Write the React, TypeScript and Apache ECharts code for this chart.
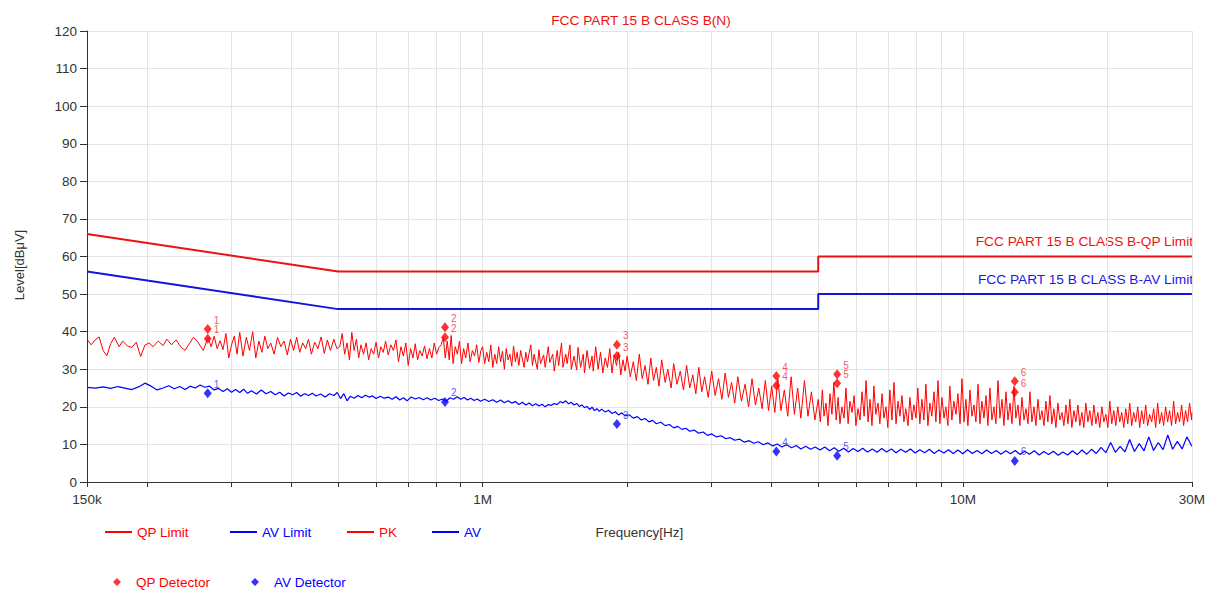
import React, { useEffect, useRef } from "react";
import * as echarts from "echarts";

const FONT = '"Liberation Sans", Arial, Helvetica, sans-serif';
const RED = "#ff0000";
const BLUE = "#0000ff";
const LIMIT_RED = "#ee1111";
const LIMIT_BLUE = "#1414e0";

// x axis (MHz, log)
const X_MIN = 0.15;
const X_MAX = 30;
const X_TICKS = [0.15, 0.2, 0.3, 0.4, 0.5, 0.6, 0.7, 0.8, 0.9, 1, 2, 3, 4, 5, 6, 7, 8, 9, 10, 20, 30];
const X_LABELS = [0.15, 1, 10, 30];

// y axis (dBµV)
const Y_MIN = 0;
const Y_MAX = 120;
const Y_STEP = 10;

// limit lines [MHz, dBµV]
const QP_LIMIT = [[0.15, 66], [0.5, 56], [5, 56], [5, 60], [30, 60]];
const AV_LIMIT = [[0.15, 56], [0.5, 46], [5, 46], [5, 50], [30, 50]];

// peak trace [MHz, dBµV]
const PK_TRACE = [
  [0.150, 38.0], [0.153, 36.5], [0.156, 37.8], [0.159, 38.6], [0.162, 35.0], [0.165, 33.6], [0.168, 36.8], [0.171, 38.5],
  [0.175, 36.0], [0.178, 37.5], [0.182, 36.2], [0.186, 35.8], [0.190, 37.2], [0.194, 33.4], [0.198, 36.4], [0.202, 37.0],
  [0.206, 36.0], [0.211, 37.5], [0.216, 36.3], [0.220, 38.0], [0.225, 36.5], [0.230, 37.8], [0.235, 36.0], [0.240, 35.0],
  [0.245, 36.8], [0.250, 38.5], [0.256, 37.0], [0.262, 35.0], [0.268, 38.5], [0.272, 36.0], [0.276, 38.8], [0.280, 35.5],
  [0.284, 37.6], [0.288, 35.2], [0.292, 39.5], [0.296, 33.0], [0.300, 36.5], [0.304, 38.8], [0.308, 34.0], [0.312, 39.8],
  [0.317, 33.5], [0.322, 38.5], [0.327, 35.0], [0.332, 40.0], [0.337, 33.0], [0.342, 37.5], [0.347, 34.5], [0.352, 38.8],
  [0.357, 35.5], [0.362, 37.0], [0.368, 34.0], [0.374, 38.5], [0.380, 36.0], [0.386, 37.5], [0.392, 33.8], [0.398, 38.0],
  [0.404, 35.0], [0.410, 38.5], [0.416, 34.5], [0.422, 37.0], [0.428, 35.5], [0.434, 38.0], [0.440, 34.0], [0.447, 37.2],
  [0.454, 35.5], [0.461, 38.6], [0.468, 34.2], [0.475, 37.8], [0.482, 35.0], [0.490, 38.0], [0.497, 35.5],
  [0.504, 36.0], [0.510, 39.5], [0.516, 34.0], [0.522, 37.0], [0.528, 32.5], [0.534, 39.8], [0.540, 35.0], [0.546, 38.0],
  [0.552, 33.0], [0.558, 36.5], [0.565, 34.0], [0.572, 37.0], [0.579, 32.5], [0.586, 35.5], [0.593, 34.0], [0.600, 37.2],
  [0.607, 33.0], [0.614, 36.0], [0.621, 34.5], [0.628, 37.5], [0.636, 33.8], [0.644, 36.5], [0.652, 35.0], [0.660, 37.8],
  [0.668, 32.0], [0.676, 36.0], [0.684, 33.5], [0.692, 37.0], [0.700, 31.0], [0.708, 35.5], [0.716, 33.0], [0.724, 36.8],
  [0.732, 32.5], [0.740, 35.0], [0.748, 33.5], [0.757, 36.2], [0.766, 32.8], [0.775, 35.5], [0.784, 33.0], [0.793, 37.0],
  [0.802, 34.0], [0.811, 35.8], [0.820, 36.5], [0.828, 38.5], [0.836, 33.0], [0.844, 37.5], [0.852, 32.5], [0.860, 39.0],
  [0.868, 31.5], [0.877, 36.0], [0.886, 34.0], [0.895, 37.5], [0.904, 31.5], [0.913, 35.5], [0.922, 33.0], [0.932, 37.0],
  [0.942, 32.0], [0.952, 35.0], [0.962, 33.5], [0.972, 36.5], [0.982, 31.8], [0.992, 35.0],
  [1.00, 36.0], [1.01, 31.5], [1.02, 34.5], [1.03, 32.0], [1.04, 36.5], [1.05, 30.5], [1.06, 34.0], [1.07, 31.5],
  [1.08, 36.0], [1.09, 32.0], [1.10, 34.8], [1.11, 30.0], [1.12, 35.5], [1.13, 32.5], [1.14, 34.0], [1.15, 30.8],
  [1.16, 36.2], [1.17, 32.0], [1.18, 34.5], [1.19, 31.0], [1.20, 35.0], [1.22, 30.5], [1.23, 34.5], [1.24, 32.0],
  [1.26, 36.5], [1.27, 31.0], [1.28, 34.0], [1.30, 30.0], [1.31, 35.2], [1.32, 31.5], [1.34, 33.8], [1.35, 30.5],
  [1.37, 36.0], [1.38, 31.8], [1.40, 34.0], [1.41, 29.5], [1.43, 35.0], [1.44, 31.0], [1.46, 37.0], [1.47, 30.5],
  [1.49, 34.0], [1.50, 31.5], [1.52, 36.5], [1.53, 30.0], [1.55, 33.5], [1.57, 29.8], [1.58, 35.8], [1.60, 30.5],
  [1.62, 34.0], [1.63, 29.0], [1.65, 35.0], [1.67, 30.2], [1.69, 33.5], [1.70, 29.5], [1.72, 36.0], [1.74, 30.0],
  [1.76, 34.5], [1.78, 29.0], [1.80, 33.0], [1.82, 30.5], [1.84, 35.5], [1.86, 29.0], [1.88, 33.8], [1.90, 31.0],
  [1.92, 34.5], [1.94, 28.5], [1.96, 32.5], [1.98, 29.5],
  [2.00, 33.5], [2.03, 28.0], [2.06, 32.0], [2.09, 27.0], [2.12, 34.0], [2.15, 27.5], [2.18, 31.0], [2.21, 26.0],
  [2.24, 33.0], [2.27, 27.0], [2.30, 30.5], [2.33, 25.5], [2.36, 32.5], [2.40, 26.5], [2.43, 30.0], [2.47, 25.0],
  [2.50, 31.5], [2.54, 26.0], [2.58, 29.5], [2.62, 24.5], [2.66, 31.0], [2.70, 25.0], [2.74, 28.5], [2.78, 23.5],
  [2.82, 30.5], [2.86, 24.0], [2.90, 28.0], [2.95, 22.5], [3.00, 29.5], [3.05, 23.0], [3.10, 27.5], [3.15, 22.0],
  [3.20, 29.0], [3.25, 22.5], [3.30, 26.5], [3.35, 21.0], [3.40, 28.0], [3.46, 21.5], [3.52, 26.0], [3.58, 20.0],
  [3.64, 27.5], [3.70, 20.5], [3.76, 25.0], [3.82, 19.5], [3.88, 27.0], [3.94, 19.0], [4.00, 25.5], [4.06, 18.5],
  [4.12, 27.5], [4.18, 19.0], [4.25, 24.5], [4.32, 17.5], [4.39, 28.0], [4.46, 18.0], [4.53, 25.0], [4.60, 17.0],
  [4.68, 27.0], [4.76, 17.5], [4.84, 24.0], [4.92, 16.5],
  [5.00, 22.0], [5.05, 16.0], [5.10, 24.5], [5.14, 17.5], [5.19, 21.0], [5.24, 15.0], [5.29, 23.5], [5.34, 18.0],
  [5.39, 26.5], [5.45, 16.5], [5.50, 22.5], [5.55, 15.5], [5.60, 20.0], [5.66, 17.0], [5.71, 25.0], [5.77, 15.5],
  [5.82, 21.5], [5.88, 18.5], [5.94, 23.0], [5.99, 15.0], [6.05, 19.5], [6.11, 16.5], [6.17, 24.0], [6.23, 17.5],
  [6.29, 27.0], [6.35, 16.0], [6.41, 22.0], [6.47, 15.0], [6.53, 25.5], [6.59, 18.0], [6.66, 21.0], [6.72, 15.5],
  [6.79, 23.5], [6.85, 17.0], [6.92, 20.0], [6.98, 14.5], [7.05, 24.5], [7.12, 16.5], [7.19, 26.5], [7.26, 15.5],
  [7.33, 21.5], [7.40, 17.5], [7.47, 23.0], [7.54, 16.0], [7.61, 19.5], [7.69, 15.0], [7.76, 22.5], [7.84, 16.5],
  [7.91, 20.5], [7.99, 17.0], [8.06, 25.0], [8.14, 15.5], [8.22, 22.0], [8.30, 16.5], [8.38, 26.0], [8.46, 15.0],
  [8.54, 21.0], [8.62, 17.5], [8.71, 24.0], [8.79, 16.0], [8.88, 27.0], [8.96, 15.5], [9.05, 22.5], [9.14, 17.0],
  [9.22, 20.0], [9.31, 15.0], [9.40, 25.5], [9.49, 16.5], [9.58, 21.5], [9.68, 18.0], [9.77, 23.5], [9.87, 15.5],
  [9.96, 27.5], [10.06, 16.0], [10.15, 22.0], [10.25, 15.0], [10.35, 24.5], [10.45, 17.5], [10.55, 20.5], [10.65, 16.0],
  [10.76, 26.0], [10.86, 15.5], [10.96, 21.5], [11.07, 17.0], [11.18, 23.0], [11.28, 15.0], [11.39, 25.0], [11.50, 16.5],
  [11.61, 20.0], [11.72, 15.5], [11.84, 27.0], [11.95, 17.0], [12.07, 22.0], [12.18, 15.0], [12.30, 24.0], [12.42, 16.5],
  [12.54, 21.0], [12.66, 15.5], [12.78, 25.5], [12.90, 17.0], [13.03, 20.5], [13.15, 15.0], [13.28, 22.5], [13.41, 16.5],
  [13.54, 19.5], [13.67, 15.5], [13.80, 24.0], [13.93, 16.0], [14.07, 20.0], [14.20, 15.0], [14.34, 22.0], [14.48, 16.5],
  [14.62, 19.0], [14.76, 15.0], [14.90, 21.5], [15.04, 16.0], [15.19, 23.0], [15.33, 15.5], [15.48, 19.5], [15.63, 14.5],
  [15.78, 21.0], [15.93, 16.5], [16.09, 18.5], [16.24, 15.0], [16.40, 20.5], [16.56, 15.5], [16.71, 22.0], [16.87, 14.5],
  [17.04, 19.0], [17.20, 16.0], [17.37, 20.5], [17.53, 15.0], [17.70, 18.5], [17.87, 14.5], [18.04, 21.0], [18.22, 16.0],
  [18.39, 19.0], [18.57, 15.0], [18.75, 20.5], [18.93, 15.5], [19.11, 18.5], [19.29, 14.5], [19.48, 20.0], [19.67, 16.0],
  [19.86, 18.0], [20.05, 14.5], [20.24, 21.5], [20.43, 15.5], [20.63, 19.0], [20.83, 15.0], [21.03, 20.0], [21.23, 16.0],
  [21.43, 18.5], [21.64, 14.5], [21.85, 19.5], [22.06, 15.5], [22.27, 21.0], [22.48, 15.0], [22.70, 18.5], [22.92, 16.0],
  [23.14, 20.0], [23.36, 14.5], [23.58, 19.0], [23.81, 15.5], [24.04, 20.5], [24.27, 15.0], [24.50, 18.0], [24.74, 16.0],
  [24.98, 19.5], [25.22, 14.5], [25.46, 21.0], [25.70, 15.5], [25.95, 18.5], [26.20, 15.0], [26.45, 20.0], [26.71, 16.0],
  [26.96, 19.0], [27.22, 15.0], [27.49, 21.5], [27.75, 15.5], [28.02, 18.5], [28.29, 16.0], [28.56, 20.5], [28.83, 15.0],
  [29.11, 19.0], [29.39, 16.0], [29.67, 21.0], [29.96, 16.5], [30.00, 18.5],
];

// average trace [MHz, dBµV]
const AV_TRACE = [
  [0.150, 25.2], [0.156, 25.0], [0.162, 25.3], [0.168, 24.9], [0.174, 25.4], [0.180, 25.0], [0.186, 24.6], [0.192, 25.3],
  [0.198, 26.3], [0.204, 25.5], [0.210, 24.5], [0.216, 25.0], [0.222, 25.6], [0.228, 24.8], [0.234, 25.4], [0.240, 24.6],
  [0.246, 25.5], [0.252, 25.0], [0.258, 25.8], [0.264, 25.2], [0.270, 25.5], [0.276, 24.5], [0.282, 24.9], [0.288, 24.1],
  [0.294, 24.8], [0.300, 23.9], [0.306, 24.6], [0.312, 23.8], [0.318, 24.7], [0.324, 23.6], [0.330, 24.3], [0.338, 23.4],
  [0.346, 24.5], [0.354, 23.5], [0.362, 24.1], [0.370, 23.2], [0.378, 23.9], [0.386, 22.9], [0.394, 23.7], [0.402, 23.2],
  [0.410, 23.8], [0.418, 22.8], [0.426, 23.5], [0.434, 23.0], [0.442, 23.6], [0.450, 22.9], [0.460, 23.4], [0.470, 22.6],
  [0.480, 23.5], [0.490, 23.0], [0.498, 23.8],
  [0.506, 22.2], [0.514, 23.5], [0.522, 21.6], [0.530, 22.8], [0.540, 22.3], [0.550, 23.0], [0.560, 22.4], [0.570, 23.1],
  [0.580, 22.6], [0.590, 22.9], [0.600, 22.2], [0.612, 22.8], [0.624, 22.3], [0.636, 22.6], [0.648, 22.0], [0.660, 22.7],
  [0.672, 21.8], [0.684, 22.4], [0.696, 21.6], [0.710, 22.6], [0.724, 22.1], [0.738, 22.5], [0.752, 21.9], [0.766, 22.4],
  [0.780, 21.8], [0.795, 22.3], [0.810, 21.7], [0.825, 22.1], [0.840, 21.5], [0.855, 22.4], [0.870, 22.0], [0.885, 22.7],
  [0.900, 22.0], [0.915, 22.5], [0.930, 21.8], [0.945, 22.3], [0.960, 21.7], [0.975, 22.1], [0.990, 21.5],
  [1.01, 22.0], [1.03, 21.4], [1.05, 21.9], [1.07, 21.2], [1.09, 21.8], [1.11, 21.1], [1.13, 21.6], [1.15, 21.0],
  [1.17, 21.4], [1.19, 20.6], [1.21, 21.2], [1.23, 20.5], [1.25, 21.0], [1.27, 20.3], [1.29, 20.8], [1.31, 20.2],
  [1.33, 20.7], [1.35, 20.0], [1.37, 20.6], [1.39, 20.4], [1.41, 20.9], [1.43, 20.6], [1.45, 21.4], [1.47, 21.0],
  [1.49, 21.6], [1.51, 20.8], [1.53, 21.2], [1.55, 20.5], [1.57, 20.9], [1.59, 20.1], [1.61, 20.5], [1.63, 19.8],
  [1.65, 20.1], [1.67, 19.3], [1.69, 19.9], [1.71, 19.0], [1.73, 19.5], [1.75, 18.8], [1.77, 19.4], [1.80, 18.6],
  [1.83, 19.1], [1.86, 18.2], [1.89, 18.7], [1.92, 17.8], [1.95, 18.4], [1.98, 17.6],
  [2.02, 17.9], [2.06, 17.0], [2.10, 17.4], [2.14, 16.5], [2.18, 16.9], [2.22, 16.0], [2.26, 16.4], [2.30, 15.5],
  [2.35, 15.9], [2.40, 15.0], [2.45, 15.3], [2.50, 14.4], [2.55, 14.8], [2.60, 14.0], [2.65, 14.3], [2.70, 13.5],
  [2.76, 13.8], [2.82, 13.0], [2.88, 13.3], [2.94, 12.4], [3.00, 12.8], [3.07, 12.0], [3.14, 12.3], [3.21, 11.5],
  [3.28, 11.8], [3.35, 11.1], [3.43, 11.4], [3.51, 10.6], [3.59, 11.0], [3.67, 10.3], [3.75, 10.7], [3.84, 9.9],
  [3.93, 10.4], [4.02, 9.6], [4.11, 10.1], [4.20, 9.3], [4.30, 9.9], [4.40, 9.1], [4.50, 9.7], [4.60, 8.8],
  [4.71, 9.5], [4.82, 8.7], [4.93, 9.3],
  [5.04, 8.5], [5.16, 9.3], [5.28, 8.3], [5.40, 9.1], [5.52, 8.2], [5.65, 9.0], [5.78, 8.0], [5.91, 8.9],
  [6.05, 8.1], [6.19, 9.0], [6.33, 8.0], [6.48, 8.8], [6.63, 7.9], [6.78, 8.9], [6.94, 8.0], [7.10, 8.8],
  [7.26, 7.8], [7.43, 8.7], [7.60, 7.9], [7.78, 8.8], [7.96, 7.7], [8.14, 8.6], [8.33, 7.8], [8.52, 8.7],
  [8.72, 7.6], [8.92, 8.5], [9.13, 7.7], [9.34, 8.6], [9.55, 7.6], [9.77, 8.5], [10.0, 7.5], [10.23, 8.6],
  [10.47, 7.6], [10.71, 8.4], [10.96, 7.5], [11.21, 8.5], [11.47, 7.6], [11.74, 8.4], [12.01, 7.4], [12.29, 8.3],
  [12.57, 7.5], [12.86, 8.4], [13.16, 7.3], [13.46, 8.2], [13.77, 7.4], [14.09, 8.3], [14.42, 7.2], [14.75, 8.1],
  [15.09, 7.3], [15.44, 8.2], [15.80, 7.1], [16.16, 8.0], [16.54, 7.2], [16.92, 8.3], [17.31, 7.3], [17.71, 8.5],
  [18.12, 7.4], [18.54, 8.7], [18.97, 7.6], [19.41, 9.2], [19.86, 7.8], [20.32, 10.5], [20.79, 7.9], [21.27, 9.5],
  [21.76, 8.0], [22.26, 11.3], [22.78, 8.1], [23.31, 10.2], [23.85, 8.3], [24.40, 12.0], [24.96, 8.4], [25.54, 10.5],
  [26.13, 8.6], [26.73, 12.5], [27.35, 8.7], [27.98, 10.8], [28.63, 8.8], [29.29, 12.0], [30.00, 9.5],
];

// final measurement points
const MARK_NO = ["1", "2", "3", "4", "5", "6"];
const MARK_FREQ = [0.2676, 0.835, 1.904, 4.09, 5.475, 12.83];
const QP_DET_HIGH = [40.7, 41.2, 36.5, 28.2, 28.7, 26.8];
const QP_DET_LOW = [38.1, 38.5, 33.5, 25.7, 26.3, 23.9];
const AV_DET = [23.6, 21.3, 15.4, 8.1, 7.0, 5.6];

const TITLE = "FCC PART 15 B CLASS B(N)";
const QP_LIMIT_NAME = "FCC PART 15 B CLASS B-QP Limit";
const AV_LIMIT_NAME = "FCC PART 15 B CLASS B-AV Limit";

function fmtFreq(v: number): string {
  if (v >= 1) return `${Math.round(v)}M`;
  return `${Math.round(v * 1000)}k`;
}

function legendItem(name: string, color: string, left: number, top: number, icon: string, w: number, h: number, textPad: number) {
  return {
    left,
    top,
    padding: 0,
    itemWidth: w,
    itemHeight: h,
    icon,
    selectedMode: false,
    data: [{ name, textStyle: { color } }],
    textStyle: { fontFamily: FONT, fontSize: 13.5, color, padding: [0, 0, 0, textPad] },
  };
}

export default function App() {
  const ref = useRef<HTMLDivElement>(null);
  useEffect(() => {
    document.body.style.margin = "0";
    const chart = echarts.init(ref.current!, null, { renderer: "svg" });
    const qpDet: any[] = [];
    MARK_FREQ.forEach((f, i) => {
      qpDet.push([f, QP_DET_HIGH[i], MARK_NO[i]]);
      qpDet.push([f, QP_DET_LOW[i], MARK_NO[i]]);
    });
    const avDet = MARK_FREQ.map((f, i) => [f, AV_DET[i], MARK_NO[i]]);

    const detLabel = (color: string) => ({
      show: true,
      position: "right",
      distance: 2,
      offset: [0, -9],
      fontSize: 10,
      color,
      fontFamily: FONT,
      formatter: (p: any) => p.data[2],
    });

    const option: any = {
      animation: false,
      backgroundColor: "#ffffff",
      textStyle: { fontFamily: FONT },
      grid: { left: 87, right: 13, top: 31, bottom: 108 },
      xAxis: {
        type: "log",
        logBase: 10,
        min: X_MIN,
        max: X_MAX,
        name: "Frequency[Hz]",
        nameLocation: "middle",
        nameGap: 43,
        nameTextStyle: { color: "#333", fontSize: 13.5, fontFamily: FONT },
        axisLine: { show: true, lineStyle: { color: "#333", width: 1 } },
        axisTick: { show: true, length: 5, customValues: X_TICKS, lineStyle: { color: "#333" } },
        axisLabel: {
          customValues: X_LABELS,
          formatter: (v: number) => fmtFreq(v),
          color: "#333",
          fontSize: 13.5,
          fontFamily: FONT,
          margin: 10,
        },
        splitLine: { show: true, lineStyle: { color: "#e4e4e4", width: 1 } },
        minorTick: { show: false },
      },
      yAxis: {
        type: "value",
        min: Y_MIN,
        max: Y_MAX,
        interval: Y_STEP,
        name: "Level[dBμV]",
        nameLocation: "middle",
        nameGap: 61,
        nameRotate: 90,
        nameTextStyle: { color: "#333", fontSize: 13, fontFamily: FONT, padding: [0, 17, 0, 0] },
        axisLine: { show: true, lineStyle: { color: "#333", width: 1 } },
        axisTick: { show: true, length: 7, lineStyle: { color: "#333" } },
        axisLabel: { color: "#333", fontSize: 13.5, fontFamily: FONT, margin: 10 },
        splitLine: { show: true, lineStyle: { color: "#e4e4e4", width: 1 } },
      },
      legend: [
        legendItem("QP Limit", RED, 105, 525, "rect", 27, 2, 0),
        legendItem("AV Limit", BLUE, 230, 525, "rect", 27, 2, 0),
        legendItem("PK", RED, 347, 525, "rect", 27, 2, 0),
        legendItem("AV", BLUE, 432, 525, "rect", 27, 2, 0),
        legendItem("QP Detector", RED, 113, 575, "diamond", 8, 8, 10),
        legendItem("AV Detector", BLUE, 251, 575, "diamond", 8, 8, 10),
      ],
      graphic: [
        {
          type: "text",
          x: 641,
          y: 20,
          style: { text: TITLE, fill: "#f01010", font: `13.7px ${FONT}`, align: "center", verticalAlign: "middle" },
        },
        {
          type: "text",
          x: 1193,
          y: 241,
          style: { text: QP_LIMIT_NAME, fill: "#f01010", font: `13.7px ${FONT}`, align: "right", verticalAlign: "middle" },
        },
        {
          type: "text",
          x: 1193,
          y: 279,
          style: { text: AV_LIMIT_NAME, fill: "#1a1ae0", font: `13.7px ${FONT}`, align: "right", verticalAlign: "middle" },
        },
      ],
      series: [
        {
          name: "PK",
          type: "line",
          data: PK_TRACE,
          symbol: "none",
          color: RED,
          lineStyle: { color: RED, width: 1 },
          z: 2,
        },
        {
          name: "AV",
          type: "line",
          data: AV_TRACE,
          symbol: "none",
          color: BLUE,
          lineStyle: { color: BLUE, width: 1.2 },
          z: 2,
        },
        {
          name: "QP Limit",
          type: "line",
          data: QP_LIMIT,
          symbol: "none",
          color: RED,
          lineStyle: { color: LIMIT_RED, width: 2 },
          z: 3,
        },
        {
          name: "AV Limit",
          type: "line",
          data: AV_LIMIT,
          symbol: "none",
          color: BLUE,
          lineStyle: { color: LIMIT_BLUE, width: 2 },
          z: 3,
        },
        {
          name: "QP Detector",
          type: "scatter",
          data: qpDet,
          symbol: "diamond",
          symbolSize: [8, 10],
          color: RED,
          itemStyle: { color: RED },
          label: detLabel("#f03030"),
          z: 5,
        },
        {
          name: "AV Detector",
          type: "scatter",
          data: avDet,
          symbol: "diamond",
          symbolSize: [8, 10],
          color: BLUE,
          itemStyle: { color: BLUE },
          label: detLabel("#3030f0"),
          z: 5,
        },
      ],
    };
    chart.setOption(option);
    return () => chart.dispose();
  }, []);
  return <div ref={ref} style={{ width: 1208, height: 590, background: "#ffffff" }} />;
}
